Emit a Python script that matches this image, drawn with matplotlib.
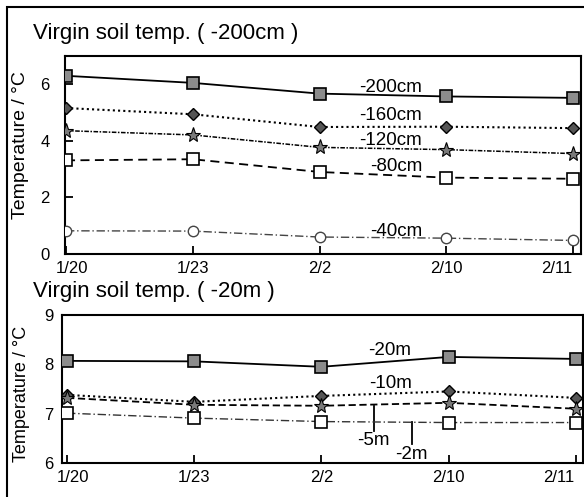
import matplotlib.pyplot as plt
from matplotlib.patches import Rectangle
from matplotlib.transforms import ScaledTranslation

plt.rcParams['font.family'] = ['Liberation Sans', 'DejaVu Sans']

# dates on the x axis
dates = ["1/20", "1/23", "2/2", "2/10", "2/11"]

# soil temperature at -200cm ... -40cm (deg C)
t200cm = [6.30, 6.05, 5.67, 5.57, 5.52]
t160cm = [5.16, 4.94, 4.49, 4.50, 4.45]
t120cm = [4.36, 4.21, 3.77, 3.69, 3.55]
t80cm = [3.31, 3.35, 2.90, 2.70, 2.66]
t40cm = [0.82, 0.81, 0.60, 0.56, 0.48]

# soil temperature at -20m ... -2m (deg C)
t20m = [8.07, 8.06, 7.95, 8.15, 8.11]
t10m = [7.38, 7.24, 7.36, 7.45, 7.32]
t5m = [7.32, 7.18, 7.16, 7.22, 7.10]
t2m = [7.01, 6.91, 6.84, 6.82, 6.82]

x = list(range(len(dates)))

fig = plt.figure(figsize=(5.84, 4.97), dpi=100)
W, H = 584, 497


def px_axes(left, top, right, bottom):
    return fig.add_axes([left / W, 1 - bottom / H, (right - left) / W, (bottom - top) / H])


def style_axes(ax, ypad, xpad):
    for s in ax.spines.values():
        s.set_linewidth(1.5)
    ax.tick_params(direction='in', length=6, width=1.3, labelsize=12)
    ax.tick_params(axis='y', pad=ypad)
    ax.tick_params(axis='x', pad=xpad)
    ax.set_xticks(x)
    ax.set_xticklabels(dates)
    labs = ax.get_xticklabels()
    # first label sits a little right of its tick, last one is pulled inside the frame
    labs[0].set_transform(labs[0].get_transform() + ScaledTranslation(6 / 100, 0, fig.dpi_scale_trans))
    labs[-1].set_horizontalalignment('right')
    labs[-1].set_transform(labs[-1].get_transform() + ScaledTranslation(-1 / 100, 0, fig.dpi_scale_trans))


gray_sq = dict(marker='s', markersize=8.5, markerfacecolor='#8c8c8c', markeredgecolor='black', markeredgewidth=1.2)
diam = dict(marker='D', markersize=6, markerfacecolor='#555555', markeredgecolor='black', markeredgewidth=1.0)
star = dict(marker='*', markersize=11, markerfacecolor='#7a7a7a', markeredgecolor='black', markeredgewidth=0.8)
open_sq = dict(marker='s', markersize=9, markerfacecolor='white', markeredgecolor='black', markeredgewidth=1.2)
open_o = dict(marker='o', markersize=7.5, markerfacecolor='white', markeredgecolor='#444444', markeredgewidth=1.0)

# -------------------------------
# top panel
# -------------------------------
ax1 = px_axes(65, 56, 581, 254)
ax1.plot(x, t200cm, color='black', lw=1.3, ls='-', **gray_sq, zorder=5)
ax1.plot(x, t160cm, color='black', lw=1.5, ls=(0, (1, 1.5)), **diam, zorder=5)
ax1.plot(x, t120cm, color='black', lw=1.1, ls=(0, (3, 1, 1, 1)), **star, zorder=5)
ax1.plot(x, t80cm, color='black', lw=1.3, ls=(0, (5, 3)), **open_sq, zorder=5)
ax1.plot(x, t40cm, color='#444444', lw=1.0, ls=(0, (6, 2, 1, 2)), **open_o, zorder=5)
ax1.set_xlim(-0.008, 4.063)
ax1.set_ylim(0, 7)
ax1.set_yticks([0, 2, 4, 6])
style_axes(ax1, ypad=11, xpad=5)

for lab, yy in [("-200cm", 5.9), ("-160cm", 4.91), ("-120cm", 4.03), ("-80cm", 3.1), ("-40cm", 0.78)]:
    ax1.text(2.81, yy, lab, ha='right', va='center', fontsize=13.5, zorder=6)

# -------------------------------
# bottom panel
# -------------------------------
ax2 = px_axes(62, 315, 583, 463)
ax2.plot(x, t20m, color='black', lw=1.3, ls='-', **gray_sq, zorder=5)
ax2.plot(x, t10m, color='black', lw=1.5, ls=(0, (1, 1.5)), **diam, zorder=5)
ax2.plot(x, t5m, color='black', lw=1.3, ls=(0, (4, 2)), **star, zorder=5)
ax2.plot(x, t2m, color='#333333', lw=1.0, ls=(0, (6, 2, 1, 2)), **open_sq, zorder=5)
ax2.set_xlim(-0.04, 4.057)
ax2.set_ylim(6, 9)
ax2.set_yticks([6, 7, 8, 9])
style_axes(ax2, ypad=6, xpad=5)

ax2.text(2.54, 8.29, "-20m", ha='center', va='center', fontsize=13.5)
ax2.text(2.54, 7.62, "-10m", ha='center', va='center', fontsize=13.5)
ax2.text(2.41, 6.45, "-5m", ha='center', va='center', fontsize=13.5)
ax2.text(2.71, 6.18, "-2m", ha='center', va='center', fontsize=13.5)
ax2.plot([2.41, 2.41], [7.15, 6.64], color='black', lw=1.3)
ax2.plot([2.71, 2.71], [6.84, 6.38], color='black', lw=1.3)

# titles and axis labels
fig.text(33 / W, 1 - 33 / H, "Virgin soil temp. ( -200cm )", ha='left', va='center', fontsize=16)
fig.text(33 / W, 1 - 291 / H, "Virgin soil temp. ( -20m )", ha='left', va='center', fontsize=16)
fig.text(21 / W, 1 - 145 / H, "Temperature / °C", rotation=90, ha='center', va='center', fontsize=14)
fig.text(22 / W, 1 - 394 / H, "Temperature / °C", rotation=90, ha='center', va='center', fontsize=13)

# outer frame
fig.patches.append(Rectangle((7 / W, -0.1), 1.2, 1 - 7 / H + 0.1, transform=fig.transFigure,
                             fill=False, edgecolor='black', lw=1.5))

fig.savefig("out.png", dpi=100)
